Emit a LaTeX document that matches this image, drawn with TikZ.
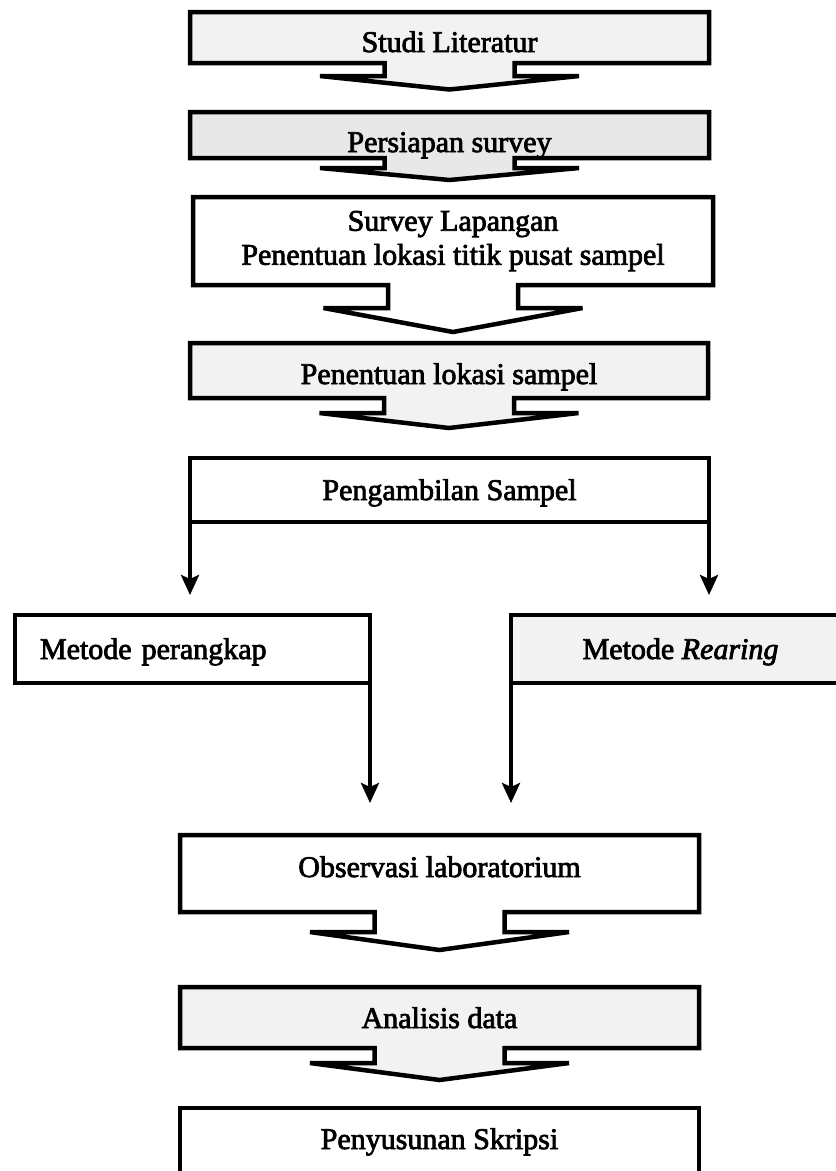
\documentclass[tikz,border=0pt]{standalone}
\usepackage{fontspec}
\setmainfont{Liberation Serif}[BoldFont={Liberation Serif}, BoldFeatures={FakeBold=2.5},
  BoldItalicFont={Liberation Serif Italic}, BoldItalicFeatures={FakeBold=2.5}]
\usepackage{xcolor}
\usepackage{tikz}
\usetikzlibrary{arrows.meta,calc}

\pgfdeclarelayer{bg}
\pgfsetlayers{bg,main}

% box with a broad down arrow hanging from its lower edge
\newcommand{\dropbox}[4]{%
  \begin{pgfonlayer}{bg}
  \draw[boxline, fill=#2] (#1.north west) -- (#1.north east) -- (#1.south east)
    -- ($(#1.south)+(65,0)$) -- ++(0,#3) -- ++(64.5,0)
    -- ($(#1.south)+(0,#3+#4)$)
    -- ($(#1.south)+(-129.5,#3)$) -- ++(64.5,0)
    -- ($(#1.south)+(-65,0)$) -- (#1.south west) -- cycle;
  \end{pgfonlayer}}

\begin{document}
\begin{tikzpicture}[x=1pt, y=-1pt,
  boxline/.style={line width=4.5pt},
  box/.style={minimum width=519pt, minimum height=#1, inner sep=0pt, outer sep=0pt,
    text depth=0pt, text height=20pt, font=\fontsize{30}{34}\selectfont\bfseries},
  arr/.style={-{Stealth[length=20pt, width=18pt, inset=4pt]}, line width=4.5pt}]
  \useasboundingbox (0,0) rectangle (836,1171);

  % Boxes with broad arrows
  \node[box=51pt, text height=29pt] (studi) at (449.5,37.5) {Studi Literatur};
  \dropbox{studi}{black!5}{13}{13.5}

  \node[box=46pt, text height=34pt] (persiapan) at (449.5,135) {Persiapan survey};
  \dropbox{persiapan}{black!9}{10}{12}

  \node[box=88pt, minimum width=520pt, align=center, text height=, text depth=] (survey) at (453,241)
    {Survey Lapangan\\Penentuan lokasi titik pusat sampel};
  \dropbox{survey}{white}{23}{24}

  \node[box=55pt, minimum width=518pt, text height=27pt] (lokasi) at (449,370.5) {Penentuan lokasi sampel};
  \dropbox{lokasi}{black!5}{15}{15}

  % Sampling and the two methods
  \node[box=64pt, draw, boxline, fill=white] (ambil) at (449.5,490) {Pengambilan Sampel};
  \node[box=68pt, minimum width=355pt, text width=305pt, align=left, draw, boxline, fill=white]
    (perangkap) at (192.5,649) {Metode perangkap};
  \node[box=68pt, minimum width=339pt, draw, boxline, fill=black!5]
    (rearing) at (680.5,649) {Metode \textit{Rearing}};

  \draw[arr, shorten >=20pt] (ambil.south west) -- (ambil.south west |- perangkap.north);
  \draw[arr, shorten >=20pt] (ambil.south east) -- (ambil.south east |- rearing.north);

  % Lab work and report
  \node[box=77pt, text height=7pt] (observasi) at (439.5,873.5) {Observasi laboratorium};
  \dropbox{observasi}{white}{20}{18}

  \draw[arr, shorten >=32pt] (perangkap.south east) -- (perangkap.south east |- observasi.north);
  \draw[arr, shorten >=32pt] (rearing.south west) -- (rearing.south west |- observasi.north);

  \node[box=61pt, text height=21pt] (analisis) at (439.5,1017.5) {Analisis data};
  \dropbox{analisis}{black!5}{15}{17}

  \node[box=68pt, text height=14pt, draw, boxline, fill=white] (skripsi) at (439.5,1142) {Penyusunan Skripsi};
\end{tikzpicture}
\end{document}
